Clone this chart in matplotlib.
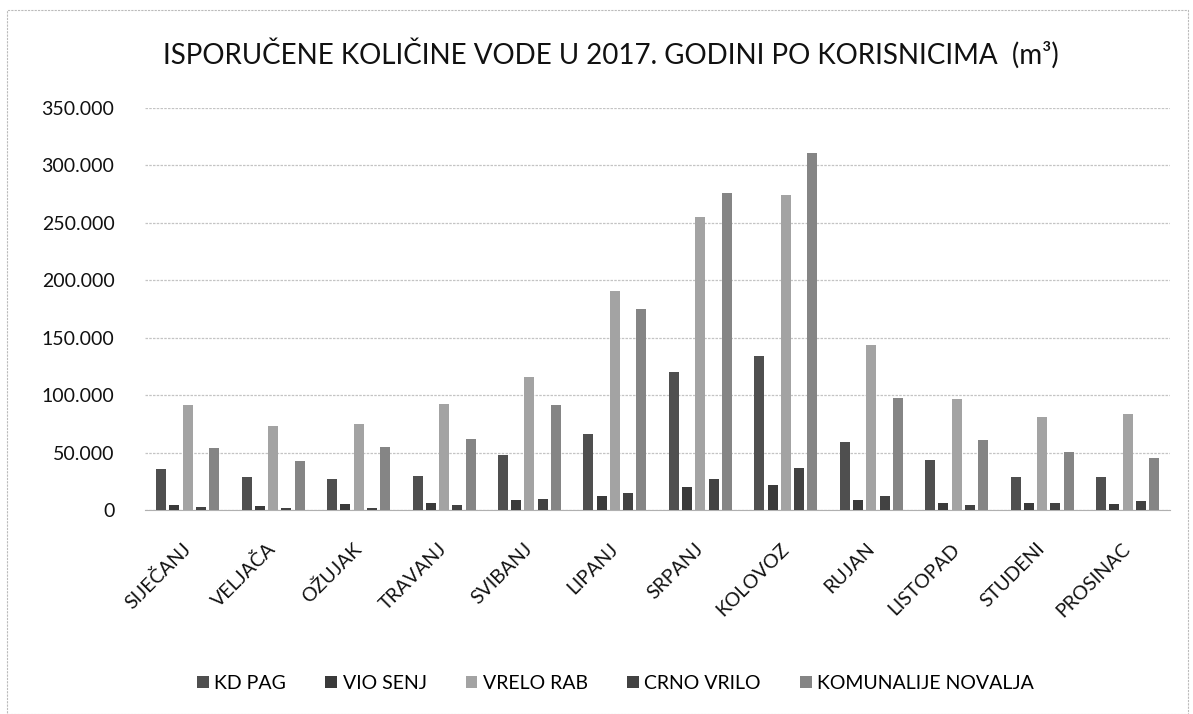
import matplotlib
matplotlib.use("Agg")
import matplotlib.pyplot as plt
import numpy as np
from matplotlib.ticker import FuncFormatter, MultipleLocator
from matplotlib.patches import Rectangle

plt.rcParams['font.family'] = ['Lato', 'DejaVu Sans']

months = ["SIJEČANJ", "VELJAČA", "OŽUJAK", "TRAVANJ", "SVIBANJ", "LIPANJ",
          "SRPANJ", "KOLOVOZ", "RUJAN", "LISTOPAD", "STUDENI", "PROSINAC"]
series_names = ["KD PAG", "VIO SENJ", "VRELO RAB", "CRNO VRILO", "KOMUNALIJE NOVALJA"]
kd_pag = [36000, 29000, 27000, 29500, 47500, 66000, 120500, 134500, 59500, 43500, 29000, 29000]
vio_senj = [4400, 3800, 5000, 6000, 8800, 11800, 20200, 21700, 8300, 6300, 5800, 4800]
vrelo_rab = [91500, 73000, 75000, 92000, 116000, 190500, 255500, 274000, 144000, 96500, 81000, 83700]
crno_vrilo = [3000, 2000, 2000, 4000, 10000, 15000, 26800, 36400, 12400, 4000, 6000, 7500]
komunalije = [54000, 43000, 55000, 62000, 91500, 174700, 276000, 311000, 97600, 60700, 50800, 45000]
colors = ["#4f4f4f", "#3a3a3a", "#a3a3a3", "#424242", "#858585"]

fig = plt.figure(figsize=(11.93, 7.14), dpi=100)
ax = fig.add_axes([0.1215, 0.2857, 0.8595, 0.563])

x = np.arange(len(months))
pitch = 0.155
width = 0.117
data = [kd_pag, vio_senj, vrelo_rab, crno_vrilo, komunalije]
for i, (name, vals, c) in enumerate(zip(series_names, data, colors)):
    ax.bar(x + (i - 2) * pitch, vals, width=width, color=c, label=name, zorder=3)

ax.set_xlim(-0.5, len(months) - 0.5)
ax.set_ylim(0, 350000)
ax.yaxis.set_major_locator(MultipleLocator(50000))
ax.yaxis.set_major_formatter(FuncFormatter(lambda v, p: f"{int(v):,}".replace(",", ".")))
ax.grid(axis='y', color='#c4c4c4', linewidth=0.9, linestyle=(0, (2, 1)), zorder=0)
for s in ['top', 'right', 'left']:
    ax.spines[s].set_visible(False)
ax.spines['bottom'].set_color('#b0b0b0')
ax.tick_params(axis='both', length=0, labelsize=14, colors='#111111')
ax.tick_params(axis='y', pad=22)
ax.set_xticks(x)
ax.set_xticklabels(months, rotation=45, ha='right', va='center', rotation_mode='anchor')
ax.tick_params(axis='x', pad=26)

fig.text(0.512, 0.925, "ISPORUČENE KOLIČINE VODE U 2017. GODINI PO KORISNICIMA  (m³)",
         ha='center', va='center', fontsize=20, color='#111111')

leg = fig.legend(loc='center', bbox_to_anchor=(0.516, 0.043), ncol=5, frameon=False,
                 fontsize=14, handlelength=0.6, handleheight=0.6, handletextpad=0.3,
                 columnspacing=2.0)

fig.patches.append(Rectangle((0.006, 0.0), 0.99, 0.986, transform=fig.transFigure,
                             fill=False, edgecolor='#bbbbbb', linewidth=0.8,
                             linestyle=(0, (2, 1))))

fig.savefig("out.png", dpi=100, facecolor='white')
